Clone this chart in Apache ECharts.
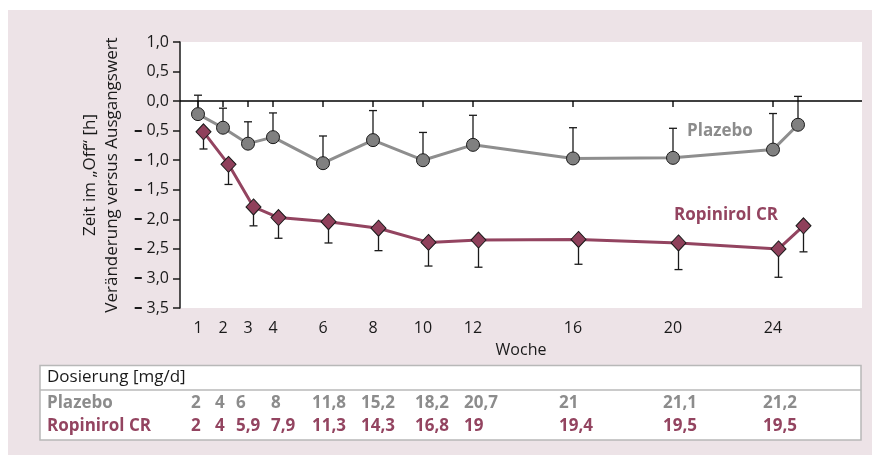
<!DOCTYPE html>
<html>
<head>
<meta charset="utf-8">
<script src="https://cdn.jsdelivr.net/npm/echarts@6/dist/echarts.min.js"></script>
<style>
  html, body { margin: 0; padding: 0; background: #ffffff; }
  #chart { width: 880px; height: 457px; }
</style>
</head>
<body>
<div id="chart"></div>
<script>
// Study weeks at which "Off" time was assessed
const weeks = [1, 2, 3, 4, 6, 8, 10, 12, 16, 20, 24, 25];

// Mean change from baseline [h] and the one-sided error bound
const plazeboMean  = [-0.22, -0.45, -0.72, -0.61, -1.05, -0.66, -1.00, -0.74, -0.97, -0.96, -0.82, -0.40];
const plazeboUpper = [ 0.10, -0.12, -0.35, -0.20, -0.59, -0.16, -0.53, -0.24, -0.45, -0.46, -0.21,  0.08];
const ropiMean     = [-0.52, -1.07, -1.79, -1.97, -2.04, -2.15, -2.39, -2.35, -2.34, -2.40, -2.50, -2.11];
const ropiLower    = [-0.81, -1.41, -2.11, -2.32, -2.40, -2.53, -2.79, -2.81, -2.76, -2.85, -2.98, -2.55];

// Labelled weeks on the x axis
const tickWeeks = [1, 2, 3, 4, 6, 8, 10, 12, 16, 20, 24];

// Daily dose [mg/d] per labelled week
const plazeboDose = ['2', '4', '6', '8', '11,8', '15,2', '18,2', '20,7', '21', '21,1', '21,2'];
const ropiDose    = ['2', '4', '5,9', '7,9', '11,3', '14,3', '16,8', '19', '19,4', '19,5', '19,5'];

// ---- layout / styling ----
const FONT = '"Open Sans", "Noto Sans", sans-serif';
const GREY = '#8c8c8c';
const WINE = '#934460';
const ROPI_DODGE = 0.22;                // small horizontal shift of the Ropinirol markers
const doseColumnX = [191, 215, 236, 271, 312, 361, 415, 464, 559, 663, 763];

const plazeboPts = weeks.map((w, i) => [w, plazeboMean[i]]);
const ropiPts = weeks.map((w, i) => [w + ROPI_DODGE, ropiMean[i]]);
const plazeboErr = weeks.map((w, i) => [w, plazeboMean[i], plazeboUpper[i]]);
const ropiErr = weeks.map((w, i) => [w + ROPI_DODGE, ropiMean[i], ropiLower[i]]);

function fmt(v) {
  const s = Math.abs(v).toFixed(1).replace('.', ',');
  return v < -1e-9 ? '{m|\u2013}' + s : s;
}

function errorBar(params, api) {
  const x = api.value(0);
  const p0 = api.coord([x, api.value(1)]);
  const p1 = api.coord([x, api.value(2)]);
  const half = 4;
  const style = { stroke: '#1a1a1a', lineWidth: 1.3 };
  return {
    type: 'group',
    children: [
      { type: 'line', shape: { x1: p0[0], y1: p0[1], x2: p1[0], y2: p1[1] }, style: style },
      { type: 'line', shape: { x1: p1[0] - half, y1: p1[1], x2: p1[0] + half, y2: p1[1] }, style: style }
    ]
  };
}

// dose table drawn as graphic elements below the plot
const tableTop = 365.5, tableLeft = 40, tableWidth = 821, tableHeight = 74.5;
const TF = '17px ' + FONT;
const TFB = 'bold 17px ' + FONT;
const tableGraphics = [
  { type: 'rect', shape: { x: tableLeft, y: tableTop, width: tableWidth, height: tableHeight },
    style: { fill: '#ffffff', stroke: '#b8b8b8', lineWidth: 1.5 } },
  { type: 'line', shape: { x1: tableLeft, y1: 390, x2: tableLeft + tableWidth, y2: 390 },
    style: { stroke: '#b8b8b8', lineWidth: 1.5 } },
  { type: 'text', x: 47, y: 377.5, style: { text: 'Dosierung [mg/d]', font: TF, fill: '#1a1a1a', textVerticalAlign: 'middle' } },
  { type: 'text', x: 47, y: 403.5, style: { text: 'Plazebo', font: TFB, fill: GREY, textVerticalAlign: 'middle' } },
  { type: 'text', x: 47, y: 426.5, style: { text: 'Ropinirol CR', font: TFB, fill: WINE, textVerticalAlign: 'middle' } }
];
tickWeeks.forEach((w, i) => {
  tableGraphics.push({ type: 'text', x: doseColumnX[i], y: 403.5,
    style: { text: plazeboDose[i], font: TFB, fill: GREY, textVerticalAlign: 'middle' } });
  tableGraphics.push({ type: 'text', x: doseColumnX[i], y: 426.5,
    style: { text: ropiDose[i], font: TFB, fill: WINE, textVerticalAlign: 'middle' } });
});

const chart = echarts.init(document.getElementById('chart'), null, { renderer: 'canvas' });

chart.setOption({
  animation: false,
  backgroundColor: '#ffffff',
  textStyle: { fontFamily: FONT },
  grid: { left: 180, top: 42, right: 18, bottom: 149, containLabel: false,
          show: true, backgroundColor: '#ffffff', borderWidth: 0 },
  graphic: [
    { type: 'rect', z: -10, silent: true, shape: { x: 8, y: 10, width: 864, height: 445 },
      style: { fill: '#ede3e7' } },
    { type: 'text', x: 720, y: 131, style: { text: 'Plazebo', font: 'bold 17px ' + FONT, fill: GREY,
      textAlign: 'center', textVerticalAlign: 'middle' } },
    { type: 'text', x: 726, y: 215, style: { text: 'Ropinirol CR', font: 'bold 17px ' + FONT, fill: WINE,
      textAlign: 'center', textVerticalAlign: 'middle' } }
  ].concat(tableGraphics),
  xAxis: {
    type: 'value',
    min: 0.28,
    max: 27.56,
    name: 'Woche',
    nameLocation: 'middle',
    nameGap: 34,
    nameTextStyle: { fontSize: 16, color: '#1a1a1a', fontFamily: FONT },
    axisLine: { show: false },
    splitLine: { show: false },
    axisTick: { show: true, length: 6, customValues: tickWeeks, lineStyle: { color: '#1a1a1a', width: 1.5 } },
    axisLabel: { customValues: tickWeeks, fontSize: 16, color: '#1a1a1a', margin: 12, fontFamily: FONT }
  },
  yAxis: {
    type: 'value',
    min: -3.5,
    max: 1.0,
    interval: 0.5,
    name: 'Zeit im \u201EOff\u201C [h]\nVer\u00E4nderung versus Ausgangswert',
    nameLocation: 'middle',
    nameRotate: 90,
    nameGap: 57,
    nameTextStyle: { fontSize: 17, color: '#1a1a1a', lineHeight: 22, fontFamily: FONT },
    axisLine: { show: true, lineStyle: { color: '#1a1a1a', width: 1.5 } },
    axisTick: { show: true, length: 7, lineStyle: { color: '#1a1a1a', width: 1.5 } },
    splitLine: { show: false },
    axisLabel: {
      formatter: fmt, fontSize: 16, color: '#1a1a1a', margin: 11, fontFamily: FONT,
      rich: { m: { fontSize: 17, fontWeight: 'bold', color: '#1a1a1a', padding: [0, 4, 0, 0] } }
    }
  },
  series: [
    {
      type: 'custom',
      name: 'Plazebo Fehler',
      renderItem: errorBar,
      data: plazeboErr,
      encode: { x: 0, y: [1, 2] },
      z: 1,
      silent: true
    },
    {
      type: 'custom',
      name: 'Ropinirol Fehler',
      renderItem: errorBar,
      data: ropiErr,
      encode: { x: 0, y: [1, 2] },
      z: 1,
      silent: true
    },
    {
      type: 'line',
      name: 'Plazebo',
      data: plazeboPts,
      z: 3,
      symbol: 'circle',
      symbolSize: 13,
      lineStyle: { color: '#8e8e8e', width: 3 },
      itemStyle: { color: '#808080', borderColor: '#1a1a1a', borderWidth: 1 },
      markLine: {
        silent: true,
        symbol: 'none',
        label: { show: false },
        lineStyle: { color: '#000000', width: 1.5, type: 'solid' },
        data: [{ yAxis: 0 }]
      }
    },
    {
      type: 'line',
      name: 'Ropinirol CR',
      data: ropiPts,
      z: 4,
      symbol: 'diamond',
      symbolSize: [15, 16],
      lineStyle: { color: WINE, width: 3 },
      itemStyle: { color: '#8f405b', borderColor: '#1a1a1a', borderWidth: 1 }
    }
  ]
});
</script>
</body>
</html>
